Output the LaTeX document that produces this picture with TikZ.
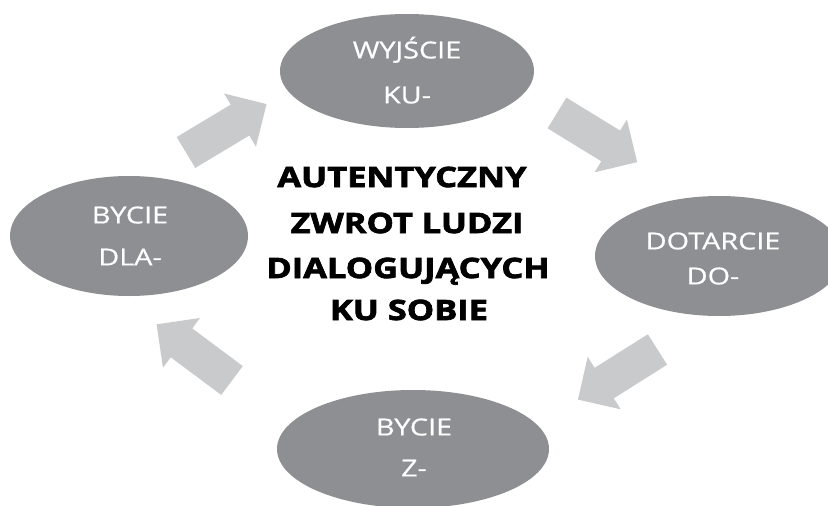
\documentclass[tikz,border=0pt]{standalone}
\usepackage{fontspec}
\setmainfont{Open Sans}
\newfontfamily\ellfont[FakeStretch=1.23,FakeBold=0.6]{Open Sans}
\newfontfamily\ctrfont[FakeStretch=1.23,FakeBold=2.6]{Open Sans Bold}
\usetikzlibrary{shapes.geometric}
\definecolor{blobgray}{HTML}{8E8F93}
\definecolor{arrowgray}{HTML}{C9CACC}
\tikzset{
  blob/.style={ellipse, fill=blobgray, draw=none, inner sep=0pt},
  lbl/.style={anchor=base, text=white, inner sep=0pt, font={\ellfont\fontsize{23.4}{28}\selectfont}},
  ctr/.style={anchor=base, text=black, inner sep=0pt, font={\ctrfont\fontsize{28}{34}\selectfont}},
  blockarrow/.style={fill=arrowgray, draw=none}
}
\newcommand{\blkarrow}[1]{(0,-18) -- (63,-18) -- (63,-31) -- (94,0) -- (63,31) -- (63,18) -- (0,18) -- cycle}
\begin{document}
\begin{tikzpicture}[x=1pt,y=-1pt]
\useasboundingbox (0,0) rectangle (828,506);
\clip (0,0) rectangle (828,506);
\fill[white] (0,0) rectangle (828,506);
% ellipses
\node[blob, minimum width=254pt, minimum height=114pt] (top) at (407,71) {};
\node[blob, minimum width=238pt, minimum height=120pt] (left) at (129,236) {};
\node[blob, minimum width=248pt, minimum height=120pt] (right) at (719,256) {};
\node[blob, minimum width=272pt, minimum height=118pt] (bottom) at (413,449) {};
% ellipse texts
\node[lbl] (topa) at (407,58.4) {WYJŚCIE};
\node[lbl] (topb) at (407,103.4) {KU-};
\node[lbl] (lefta) at (130,223.4) {BYCIE};
\node[lbl] (leftb) at (130,265.4) {DLA-};
\node[lbl] (righta) at (713,249.4) {DOTARCIE};
\node[lbl] (rightb) at (713,284.4) {DO-};
\node[lbl] (bottoma) at (414,435.4) {BYCIE};
\node[lbl] (bottomb) at (414,476.4) {Z-};
% centre text
\node[ctr] (c1) at (402,187) {AUTENTYCZNY};
\node[ctr] (c2) at (407,233) {ZWROT LUDZI};
\node[ctr] (c3) at (408,278) {DIALOGUJĄCYCH};
\node[ctr] (c4) at (409,320) {KU SOBIE};
% block arrows
\fill[blockarrow, shift={(186,152.5)}, rotate=31] \blkarrow{};
\fill[blockarrow, shift={(557,113)}, rotate=-31.5] \blkarrow{};
\fill[blockarrow, shift={(657.5,349.5)}, rotate=212.2] \blkarrow{};
\fill[blockarrow, shift={(232,380.5)}, rotate=143.3] \blkarrow{};
\end{tikzpicture}
\end{document}
